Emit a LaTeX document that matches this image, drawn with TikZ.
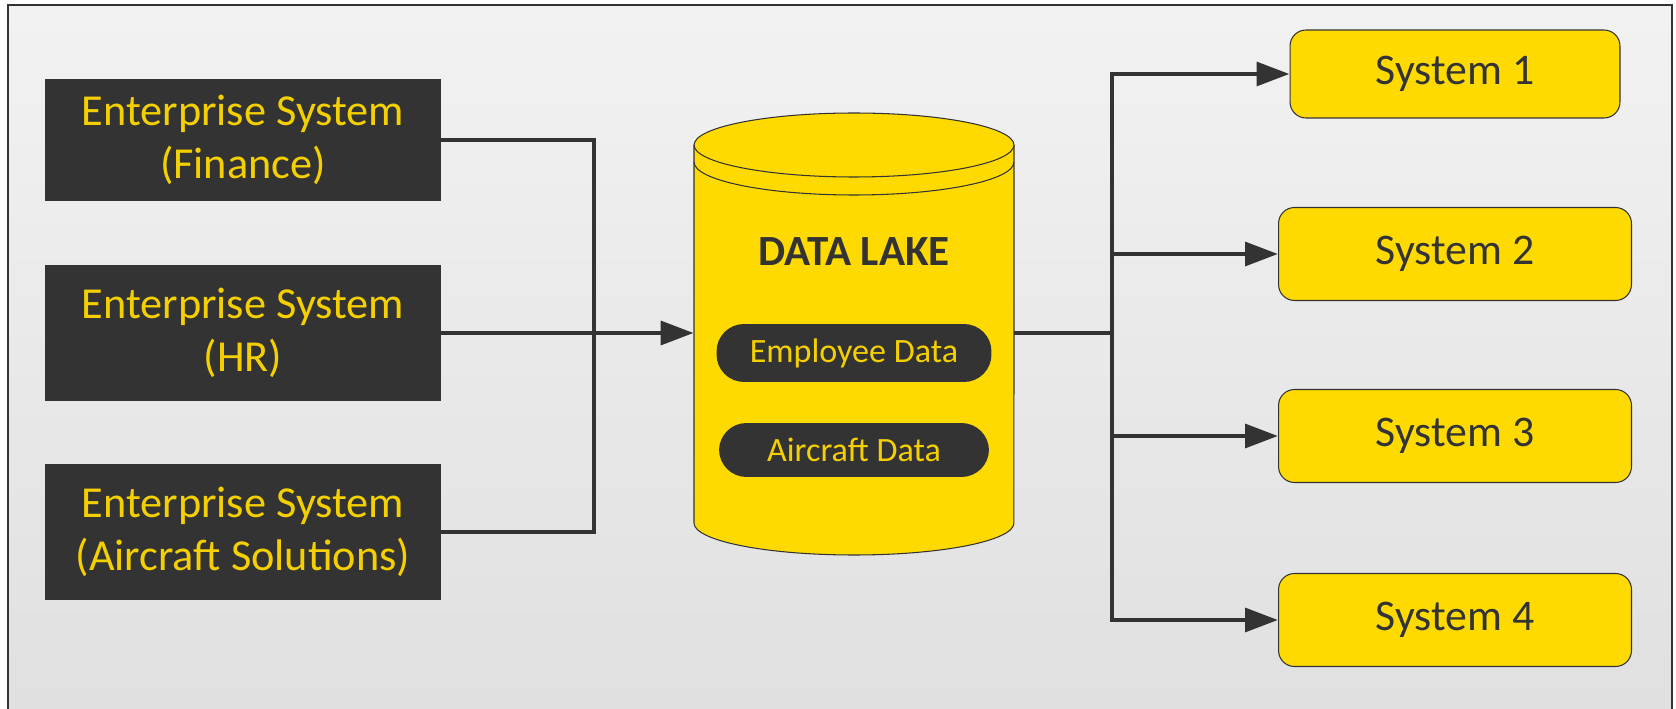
\documentclass[tikz,border=0pt]{standalone}
\usepackage{fontspec}
\setmainfont{Carlito}
\usetikzlibrary{arrows.meta}
\definecolor{lakeyellow}{HTML}{FFDA00}
\definecolor{labelyellow}{HTML}{F5D000}
\definecolor{darkbox}{HTML}{333333}
\definecolor{bgtop}{HTML}{F2F2F2}
\definecolor{bgbottom}{HTML}{E0E0E0}

\begin{document}
\begin{tikzpicture}[x=0.02cm, y=0.02cm,
  source/.style={fill=darkbox, text=labelyellow, minimum width=7.92cm, align=center,
    inner sep=0pt, font=\fontsize{25.2}{30.4}\selectfont},
  target/.style={draw=darkbox, line width=0.6pt, fill=lakeyellow, rounded corners=0.32cm,
    minimum width=7.06cm, minimum height=1.86cm, text=darkbox,
    font=\fontsize{24.9}{30.2}\selectfont},
  store/.style={fill=darkbox, text=labelyellow, rounded corners=0.55cm, inner sep=0pt,
    font=\fontsize{19.4}{23}\selectfont},
  wire/.style={draw=darkbox, line width=0.095cm},
  feed/.style={wire, -{Triangle[length=0.66cm, width=0.47cm]}}]
  \useasboundingbox (0,0) rectangle (1676,-709);
  \shade[top color=bgtop, bottom color=bgbottom] (8,-5) rectangle (1672,-709);
  \draw[darkbox, line width=0.04cm] (8,-709) -- (8,-5) -- (1672,-5) -- (1672,-709);

  % sources
  \node[source, minimum height=2.44cm] (fin) at (243,-140) {Enterprise System\\(Finance)};
  \node[source, minimum height=2.72cm] (hr) at (243,-333) {Enterprise System\\(HR)};
  \node[source, minimum height=2.74cm] (air) at (243,-532) {Enterprise System\\(Aircraft Solutions)};

  % data lake
  \draw[darkbox, line width=0.6pt, fill=lakeyellow] (694,-145) -- (694,-523)
    arc[start angle=180, end angle=360, x radius=3.2cm, y radius=0.64cm] -- (1014,-145);
  \draw[darkbox, line width=0.6pt, fill=lakeyellow] (854,-145) ellipse[x radius=3.2cm, y radius=0.64cm];
  \draw[darkbox, line width=0.6pt] (694,-162) arc[start angle=180, end angle=360, x radius=3.2cm, y radius=0.66cm];
  \node[minimum width=6.4cm, minimum height=7.56cm, inner sep=0pt] (lake) at (854,-333) {};
  \node[text=darkbox, font=\bfseries\fontsize{24.5}{29}\selectfont] (title) at (854,-252) {DATA LAKE};
  \node[store, minimum width=5.5cm, minimum height=1.16cm] (emp) at (854,-353) {Employee Data};
  \node[store, minimum width=5.4cm, minimum height=1.08cm] (acd) at (854,-450) {Aircraft Data};

  % targets
  \node[target, minimum width=6.6cm, minimum height=1.76cm] (sys1) at (1455,-74) {System 1};
  \node[target] (sys2) at (1455,-254) {System 2};
  \node[target] (sys3) at (1455,-436) {System 3};
  \node[target] (sys4) at (1455,-620) {System 4};

  \coordinate (lbus) at (594,-333);
  \coordinate (rbus) at (1112,-333);
  \draw[wire] (fin.east) -| (lbus) |- (air.east);
  \draw[feed] (hr.east) -- (lake.west);
  \draw[wire] (lake.east) -- (rbus);
  \foreach \s in {sys1,sys2,sys3,sys4}
    \draw[feed] (rbus) |- (\s.west);
\end{tikzpicture}
\end{document}
